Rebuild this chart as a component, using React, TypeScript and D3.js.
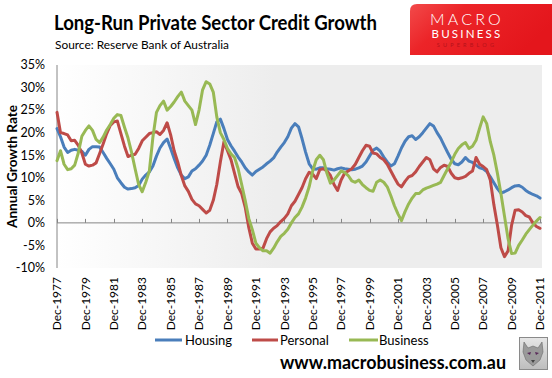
import React from 'react';
import * as d3 from 'd3';

const seriesNames = ['Housing', 'Personal', 'Business'];
const seriesColors = ['#4A7EBB', '#BE4B48', '#98B954'];
const yTickValues = [-10, -5, 0, 5, 10, 15, 20, 25, 30, 35];
const xTickLabels = ['Dec-1977', 'Dec-1979', 'Dec-1981', 'Dec-1983', 'Dec-1985', 'Dec-1987', 'Dec-1989', 'Dec-1991', 'Dec-1993', 'Dec-1995', 'Dec-1997', 'Dec-1999', 'Dec-2001', 'Dec-2003', 'Dec-2005', 'Dec-2007', 'Dec-2009', 'Dec-2011'];

// Quarterly readings, Dec-1977 .. Dec-2011 (annual growth, %)
const housing = [
  20.9, 19.1, 16.8, 15.6, 16.1, 16.3, 16.1, 15.9, 15.0, 16.3,
  16.9, 16.9, 16.8, 15.6, 14.3, 13.1, 11.9, 10.0, 8.9, 7.9,
  7.5, 7.6, 7.8, 8.3, 9.7, 10.6, 11.3, 12.6, 14.8, 16.6,
  17.8, 18.6, 16.5, 14.3, 12.2, 10.6, 9.8, 10.2, 11.5, 12.0,
  12.8, 13.7, 15.0, 17.2, 19.8, 22.4, 23.0, 20.9, 18.5, 17.1,
  15.9, 14.6, 13.5, 12.2, 11.3, 10.6, 11.4, 11.9, 12.4, 13.1,
  13.7, 14.4, 15.7, 16.8, 17.8, 19.1, 21.0, 22.0, 21.3, 18.7,
  15.7, 13.1, 12.0, 11.9, 12.2, 12.2, 12.0, 11.9, 11.7, 12.0,
  12.2, 12.0, 11.9, 11.8, 11.9, 12.2, 12.6, 13.5, 14.8, 16.1,
  16.6, 15.9, 14.6, 13.5, 12.6, 13.1, 14.8, 16.6, 18.1, 19.1,
  19.3, 18.5, 19.1, 20.0, 21.0, 22.0, 21.5, 20.0, 18.8, 17.2,
  15.6, 14.1, 13.1, 12.9, 13.5, 14.5, 13.7, 13.4, 12.8, 12.2,
  12.0, 11.4, 10.2, 8.9, 7.6, 6.6, 6.9, 7.3, 7.8, 8.2,
  8.3, 7.9, 7.2, 6.7, 6.3, 6.0, 5.5,
];
const personal = [
  24.5, 20.0, 19.8, 19.5, 18.2, 18.3, 17.2, 15.5, 13.0, 12.6,
  12.8, 13.3, 15.4, 17.5, 19.8, 21.6, 22.4, 22.6, 19.8, 17.0,
  14.7, 15.0, 15.2, 16.5, 18.2, 19.0, 19.8, 20.0, 20.2, 19.6,
  20.5, 22.2, 19.5, 16.0, 13.5, 10.5, 8.2, 7.0, 5.2, 4.2,
  3.8, 3.0, 2.2, 2.8, 5.0, 8.5, 13.5, 18.0, 16.0, 14.0,
  11.0, 8.0, 6.5, 3.5, -1.0, -4.5, -5.8, -5.8, -5.6, -3.5,
  -2.0, -1.2, -0.6, 0.3, 1.0, 2.0, 3.8, 4.8, 6.3, 7.8,
  9.8, 11.2, 10.8, 9.8, 11.8, 12.0, 11.5, 10.5, 8.5, 7.2,
  9.5, 11.0, 11.5, 12.0, 13.0, 14.5, 16.0, 17.2, 17.0, 15.5,
  15.3, 14.5, 14.0, 13.0, 11.5, 10.0, 8.6, 8.0, 9.2, 10.2,
  10.5, 11.3, 12.5, 13.5, 14.5, 14.0, 12.0, 11.3, 12.3, 12.8,
  12.5, 11.0, 10.0, 9.8, 10.0, 10.3, 11.0, 11.5, 14.5, 13.0,
  12.5, 11.8, 9.5, 4.0, -0.5, -5.5, -7.5, -6.2, -0.5, 2.8,
  2.9, 2.4, 1.6, 1.3, 0.0, -0.8, -1.2,
];
const business = [
  13.8, 16.0, 13.0, 11.8, 12.0, 12.8, 15.5, 19.2, 20.5, 21.5,
  20.5, 18.5, 17.8, 19.0, 20.6, 21.8, 23.2, 24.0, 23.8, 21.2,
  18.8, 15.7, 12.0, 8.5, 6.9, 9.0, 11.5, 19.0, 24.5, 26.0,
  27.0, 25.0, 25.8, 26.8, 28.0, 29.0, 27.0, 26.0, 25.0, 21.8,
  25.0, 29.5, 31.3, 30.8, 29.0, 23.5, 20.0, 18.5, 16.5, 15.3,
  14.5, 12.0, 8.5, 5.0, 1.0, -1.5, -4.5, -5.5, -6.2, -6.2,
  -6.7, -5.6, -4.2, -3.0, -2.3, -1.4, 0.0, 1.2, 2.0, 3.5,
  5.5, 8.0, 11.5, 14.0, 15.0, 14.0, 11.0, 8.8, 9.5, 10.5,
  11.5, 11.2, 10.5, 9.3, 9.0, 9.5, 8.5, 7.8, 7.2, 7.0,
  9.0, 9.5, 9.0, 8.0, 6.0, 3.8, 2.0, 0.5, 2.5, 4.2,
  5.5, 6.5, 6.5, 7.3, 7.7, 8.0, 8.3, 8.6, 9.0, 10.5,
  12.0, 13.5, 15.2, 16.5, 17.3, 17.8, 16.5, 17.0, 18.3, 21.0,
  23.5, 22.0, 18.0, 15.0, 11.0, 6.5, 1.5, -3.5, -6.8, -6.7,
  -5.0, -3.8, -2.5, -1.5, -0.5, 0.4, 1.2,
];

const allSeries = [housing, personal, business];
const dates = housing.map((_, i) => new Date(1977, 11 + 3 * i, 1));
const parseLabel = d3.timeParse('%b-%Y');

const FONT = 'Lato, "Open Sans", sans-serif';

export default function App() {
  const W = 552;
  const H = 378;
  const plotL = 57, plotR = 540, plotT = 65, plotB = 268;
  const x = d3.scaleTime().domain([new Date(1977, 11, 1), new Date(2011, 11, 1)]).range([plotL, plotR]);
  const y = d3.scaleLinear().domain([-10, 35]).range([plotB, plotT]);
  const line = d3.line<number>().x((_, i) => x(dates[i])).y((d) => y(d));

  const legendItems = [
    { x1: 155, x2: 182, tx: 185 },
    { x1: 252, x2: 278, tx: 280 },
    { x1: 349, x2: 378, tx: 379 },
  ];

  return (
    <svg width={W} height={H} style={{ position: 'absolute', left: 0, top: 0, background: '#fff' }} fontFamily={FONT}>
      <defs>
        <linearGradient id="plotbg" x1="0" x2="1" y1="0" y2="0">
          <stop offset="0" stopColor="#ffffff" />
          <stop offset="0.45" stopColor="#ededed" />
          <stop offset="1" stopColor="#ededed" />
        </linearGradient>
        <linearGradient id="logobg" x1="0" x2="1" y1="0" y2="0.4">
          <stop offset="0" stopColor="#f24a4a" />
          <stop offset="0.35" stopColor="#ec2428" />
          <stop offset="1" stopColor="#e4161c" />
        </linearGradient>
        <linearGradient id="wolfbg" x1="0" x2="0" y1="0" y2="1">
          <stop offset="0" stopColor="#e6e6e6" />
          <stop offset="1" stopColor="#bdbdbd" />
        </linearGradient>
      </defs>

      {/* Title */}
      <text x={54} y={30} fontSize={20.5} fontWeight={700} fill="#000" textLength={323} lengthAdjust="spacingAndGlyphs">Long-Run Private Sector Credit Growth</text>
      <text x={55} y={49} fontSize={12} fill="#000" textLength={174} lengthAdjust="spacingAndGlyphs">Source: Reserve Bank of Australia</text>

      {/* Logo */}
      <path d="M417,4 L552,4 L552,55 L410,55 L410,11 Q410,4 417,4 Z" fill="url(#logobg)" />
      <text x={467} y={25} fontSize={16} fill="#fff" textAnchor="middle" letterSpacing={3.2} fontWeight={300}>MACRO</text>
      <text x={467} y={38} fontSize={11.5} fill="#fff" textAnchor="middle" letterSpacing={2.2}>BUSINESS</text>
      <text x={467} y={46.5} fontSize={5.5} fill="#b5121a" textAnchor="middle" letterSpacing={3.2}>SUPERBLOG</text>

      {/* Plot background */}
      <rect x={plotL} y={plotT} width={542 - plotL} height={plotB - plotT} fill="url(#plotbg)" />

      {/* Y axis */}
      <line x1={plotL} x2={plotL} y1={plotT} y2={plotB} stroke="#868686" strokeWidth={1} />
      {yTickValues.map((v) => (
        <text key={v} x={45} y={y(v)} dy="0.35em" fontSize={12.5} textAnchor="end" fill="#000">{`${v}%`}</text>
      ))}
      <text transform={`translate(17,${(plotT + plotB) / 2}) rotate(-90)`} textAnchor="middle" fontSize={13.5} fontWeight={700} fill="#000" textLength={123} lengthAdjust="spacingAndGlyphs">Annual Growth Rate</text>

      {/* Zero axis with ticks */}
      <line x1={plotL} x2={542} y1={y(0)} y2={y(0)} stroke="#868686" strokeWidth={1} />
      {xTickLabels.map((lab) => {
        const px = Math.round(x(parseLabel(lab) as Date)) + 0.5;
        return <line key={lab} x1={px} x2={px} y1={y(0) - 4} y2={y(0)} stroke="#868686" strokeWidth={1} />;
      })}
      {xTickLabels.map((lab) => {
        const px = x(parseLabel(lab) as Date);
        return (
          <text key={lab} transform={`translate(${px},${277}) rotate(-90)`} textAnchor="end" dy="0.35em" fontSize={12} fill="#000">{lab}</text>
        );
      })}

      {/* Series */}
      {allSeries.map((s, i) => (
        <path key={seriesNames[i]} d={line(s) || ''} fill="none" stroke={seriesColors[i]} strokeWidth={3} strokeLinejoin="round" strokeLinecap="round" />
      ))}

      {/* Legend */}
      {seriesNames.map((n, i) => (
        <g key={n}>
          <line x1={legendItems[i].x1} x2={legendItems[i].x2} y1={340} y2={340} stroke={seriesColors[i]} strokeWidth={3} />
          <text x={legendItems[i].tx} y={340} dy="0.35em" fontSize={13} fill="#000">{n}</text>
        </g>
      ))}

      {/* Footer */}
      <text x={280} y={369} fontSize={18} fontWeight={700} fill="#000" textLength={226} lengthAdjust="spacingAndGlyphs">www.macrobusiness.com.au</text>

      {/* Wolf emblem */}
      <rect x={519.5} y={337.5} width={28} height={32} fill="url(#wolfbg)" stroke="#8a8a8a" strokeWidth={1} />
      <path d="M524,342 L528,348 L533,346 L538,348 L542,342 L543,352 L540,360 L533,366 L526,360 L523,352 Z" fill="#9a9a9a" stroke="#6a6a6a" strokeWidth={0.6} />
      <path d="M527,353 L531,352 L530,355 Z M539,353 L535,352 L536,355 Z" fill="#5a2a5a" />
      <path d="M531,360 L535,360 L533,363 Z" fill="#444" />
    </svg>
  );
}
